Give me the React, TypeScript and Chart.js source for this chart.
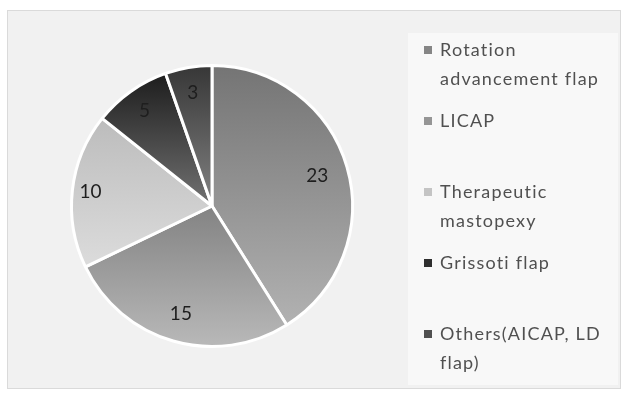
import React, { useEffect, useRef } from "react";
import { Chart, registerables } from "chart.js";

Chart.register(...registerables);

// Reconstruction techniques and number of cases
const categories = [
  "Rotation advancement flap",
  "LICAP",
  "Therapeutic mastopexy",
  "Grissoti flap",
  "Others(AICAP, LD flap)",
];
const legendLines = [
  ["Rotation", "advancement flap"],
  ["LICAP"],
  ["Therapeutic", "mastopexy"],
  ["Grissoti flap"],
  ["Others(AICAP, LD", "flap)"],
];
const counts = [23, 15, 10, 5, 3];

// Vertical shading of each slice, top colour to bottom colour
const shadeTop = ["#747474", "#838383", "#bcbcbc", "#1c1c1c", "#363636"];
const shadeBottom = ["#b2b2b2", "#b9b9b9", "#dcdcdc", "#727272", "#828282"];
const swatch = ["#858585", "#959595", "#c4c4c4", "#2e2e2e", "#505050"];

// How far out along each slice its value label sits
const labelRadius = [0.78, 0.8, 0.87, 0.83, 0.82];

const total = counts.reduce((a, b) => a + b, 0);

function sliceAngles(i: number) {
  let start = -Math.PI / 2;
  for (let j = 0; j < i; j++) start += (counts[j] / total) * Math.PI * 2;
  const end = start + (counts[i] / total) * Math.PI * 2;
  return [start, end];
}

const framePlugin = {
  id: "frame",
  beforeDraw(chart: any) {
    const { ctx, width, height } = chart;
    ctx.save();
    ctx.fillStyle = "#ffffff";
    ctx.fillRect(0, 0, width, height);
    ctx.fillStyle = "#f1f1f1";
    ctx.fillRect(7, 10, 614, 379);
    ctx.strokeStyle = "#dadada";
    ctx.lineWidth = 1;
    ctx.strokeRect(7.5, 10.5, 613, 378);
    ctx.fillStyle = "#f8f8f8";
    ctx.fillRect(408, 33, 210, 352);
    ctx.restore();
  },
};

const labelPlugin = {
  id: "sliceLabels",
  afterDatasetsDraw(chart: any) {
    const { ctx } = chart;
    const meta = chart.getDatasetMeta(0);
    ctx.save();
    ctx.font = "19px Lato";
    ctx.fillStyle = "#1e1e1e";
    ctx.textAlign = "center";
    ctx.textBaseline = "middle";
    meta.data.forEach((arc: any, i: number) => {
      const mid = (arc.startAngle + arc.endAngle) / 2;
      const r = arc.outerRadius * labelRadius[i];
      ctx.fillText(String(counts[i]), arc.x + Math.cos(mid) * r, arc.y + Math.sin(mid) * r);
    });
    ctx.restore();
  },
  afterDraw(chart: any) {
    const { ctx } = chart;
    ctx.save();
    ctx.font = "18px Lato";
    (ctx as any).letterSpacing = "1.2px";
    ctx.textBaseline = "middle";
    ctx.textAlign = "left";
    const itemTops = [50, 121, 192, 263, 334];
    legendLines.forEach((lines, i) => {
      const y0 = itemTops[i];
      ctx.fillStyle = swatch[i];
      ctx.fillRect(424, y0 - 4, 8, 8);
      ctx.fillStyle = "#505050";
      lines.forEach((t, k) => ctx.fillText(t, 440, y0 + k * 29));
    });
    ctx.restore();
  },
};

export default function App() {
  const ref = useRef<HTMLCanvasElement>(null);
  useEffect(() => {
    if (!ref.current) return;
    const chart = new Chart(ref.current, {
      type: "pie",
      data: {
        labels: categories,
        datasets: [
          {
            data: counts,
            borderColor: "#ffffff",
            borderWidth: 3,
            backgroundColor: (c: any) => {
              const i = c.dataIndex;
              const area = c.chart.chartArea;
              if (!area) return swatch[i];
              const cx = (area.left + area.right) / 2;
              const cy = (area.top + area.bottom) / 2;
              const r = Math.min(area.right - area.left, area.bottom - area.top) / 2;
              const [a0, a1] = sliceAngles(i);
              let minY = cy;
              let maxY = cy;
              for (let k = 0; k <= 60; k++) {
                const y = cy + r * Math.sin(a0 + ((a1 - a0) * k) / 60);
                minY = Math.min(minY, y);
                maxY = Math.max(maxY, y);
              }
              const g = c.chart.ctx.createLinearGradient(0, minY, 0, maxY);
              g.addColorStop(0, shadeTop[i]);
              g.addColorStop(1, shadeBottom[i]);
              return g;
            },
          },
        ],
      },
      options: {
        animation: false,
        responsive: false,
        maintainAspectRatio: false,
        layout: { padding: { left: 70, right: 274, top: 64, bottom: 48 } },
        plugins: { legend: { display: false }, tooltip: { enabled: false } },
      },
      plugins: [framePlugin, labelPlugin],
    });
    return () => chart.destroy();
  }, []);
  return (
    <div style={{ position: "fixed", left: 0, top: 0, width: 628, height: 396 }}>
      <canvas ref={ref} width={628} height={396} style={{ display: "block" }} />
    </div>
  );
}
